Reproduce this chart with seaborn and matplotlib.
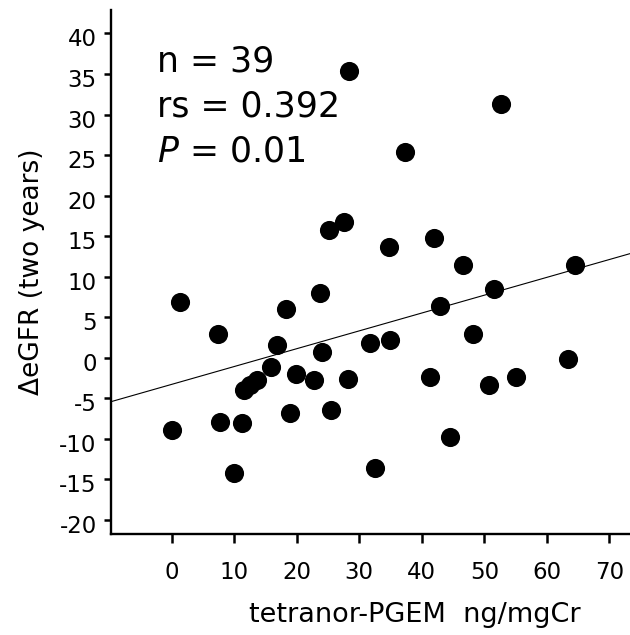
import matplotlib
matplotlib.use("Agg")
import matplotlib.pyplot as plt
import matplotlib.transforms as mtransforms
import seaborn as sns
import pandas as pd
import numpy as np

# ---- data ----
pgem = [0.0, 1.35, 7.35, 7.78, 9.94, 11.29, 11.5, 12.58, 13.67, 15.83,
        16.9, 18.31, 18.96, 19.88, 22.79, 23.66, 24.04, 25.2, 25.44, 27.6,
        28.25, 28.36, 31.76, 32.57, 34.78, 34.84, 37.32, 41.32, 42.02, 42.89,
        44.56, 46.67, 48.23, 50.72, 51.53, 52.66, 55.09, 63.36, 64.44]
d_egfr = [-8.86, 6.82, 2.92, -7.92, -14.24, -8.09, -3.94, -3.35, -2.8, -1.19,
          1.57, 6.06, -6.78, -1.99, -2.8, 8.0, 0.72, 15.8, -6.48, 16.74,
          -2.58, 35.38, 1.78, -13.6, 13.69, 2.2, 25.42, -2.42, 14.79, 6.4,
          -9.83, 11.48, 2.92, -3.39, 8.43, 31.27, -2.42, -0.13, 11.44]
fit_slope = 0.220
fit_intercept = -3.28
x_ticks = [0, 10, 20, 30, 40, 50, 60, 70]
y_ticks = [-20, -15, -10, -5, 0, 5, 10, 15, 20, 25, 30, 35, 40]
stats_lines = ["n = 39", "rs = 0.392", "$P$ = 0.01"]
x_label = "tetranor-PGEM  ng/mgCr"
y_label = "\u0394eGFR (two years)"

df = pd.DataFrame({"pgem": pgem, "egfr": d_egfr})

sns.set_style("ticks")
plt.rcParams["font.family"] = ["DejaVu Sans"]
plt.rcParams["mathtext.fontset"] = "dejavusans"
plt.rcParams["text.color"] = "black"
plt.rcParams["axes.labelcolor"] = "black"
plt.rcParams["xtick.color"] = "black"
plt.rcParams["ytick.color"] = "black"

fig = plt.figure(figsize=(6.3, 6.35), dpi=100)
ax = fig.add_axes([0.1762, 0.1595, 1.0 - 0.1762, 0.9843 - 0.1595])

xlim = (-9.7, 73.3)
ylim = (-21.7, 42.9)

sns.scatterplot(data=df, x="pgem", y="egfr", ax=ax, color="black",
                s=190, linewidth=0, zorder=3, legend=False)

line_x = np.array(xlim)
line_df = pd.DataFrame({"x": line_x, "y": fit_intercept + fit_slope * line_x})
sns.lineplot(data=line_df, x="x", y="y", ax=ax, color="black",
             linewidth=0.8, zorder=2)

ax.set_xlim(*xlim)
ax.set_ylim(*ylim)
ax.set_xticks(x_ticks)
ax.set_yticks(y_ticks)
ax.set_xticklabels([str(v) for v in x_ticks])
ax.set_yticklabels([str(v) for v in y_ticks])

sns.despine(ax=ax)
for side in ("left", "bottom"):
    ax.spines[side].set_linewidth(1.7)
    ax.spines[side].set_color("black")

ax.tick_params(axis="x", length=6.5, width=1.8, pad=13, labelsize=16.5,
               colors="black", labelcolor="black", direction="out")
ax.tick_params(axis="y", length=5, width=1.8, pad=5.3, labelsize=16.5,
               colors="black", labelcolor="black", direction="out")

ax.set_xlabel(x_label, fontsize=19.5, va="baseline", color="black")
ax.xaxis.set_label_coords(0.586, -0.168)
ax.set_ylabel(y_label, fontsize=19, va="baseline", color="black")
ax.yaxis.set_label_coords(-0.1378, 0.5)

# small downward shift of y tick labels, as in reference
off = mtransforms.ScaledTranslation(0, -4 / 100, fig.dpi_scale_trans)
for lab in ax.get_yticklabels():
    lab.set_transform(lab.get_transform() + off)

baselines = [35.27, 29.7, 24.27]
for txt, yb in zip(stats_lines, baselines):
    ax.text(-2.4, yb, txt, fontsize=25, va="baseline", ha="left",
            color="black")

fig.savefig("out.png", dpi=100, facecolor="white")
